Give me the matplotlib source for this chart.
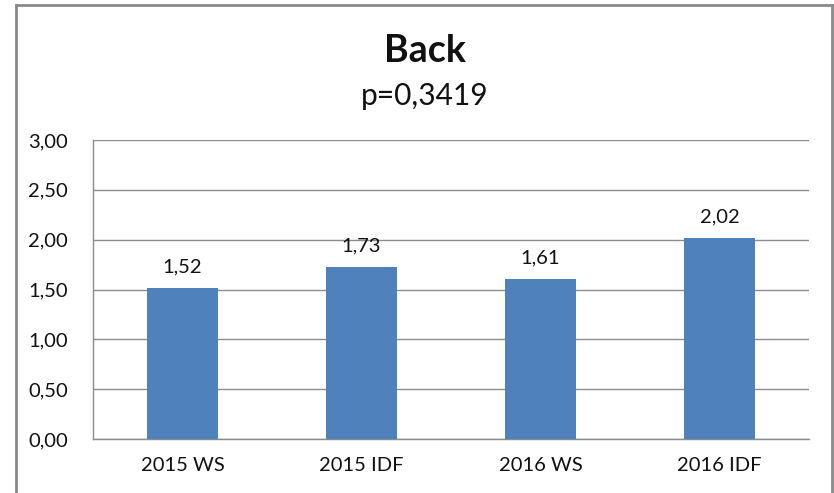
import matplotlib.pyplot as plt
from matplotlib.lines import Line2D
from matplotlib.ticker import FuncFormatter

categories = ['2015 WS', '2015 IDF', '2016 WS', '2016 IDF']
values = [1.52, 1.73, 1.61, 2.02]
title = 'Back'
subtitle = 'p=0,3419'

plt.rcParams['font.family'] = ['Lato', 'DejaVu Sans']

fig = plt.figure(figsize=(8.34, 4.93), dpi=100)
ax = fig.add_axes([0.1115, 0.1095, 0.8585, 0.6065])

x = range(len(categories))
ax.bar(x, values, width=0.40, color='#4F81BD', zorder=3)

# data labels with comma decimals
for xi, v in zip(x, values):
    ax.annotate(f'{v:.2f}'.replace('.', ','), (xi, v), xytext=(0, 9),
                textcoords='offset points', ha='center', va='bottom',
                fontsize=14.5, color='#111111')

ax.set_xlim(-0.5, len(categories) - 0.5)
ax.set_ylim(0, 3)
ax.set_yticks([0, 0.5, 1, 1.5, 2, 2.5, 3])
ax.yaxis.set_major_formatter(FuncFormatter(lambda v, p: f'{v:.2f}'.replace('.', ',')))
ax.set_xticks(list(x))
ax.set_xticklabels(categories)

ax.grid(axis='y', color='#8c8c8c', linewidth=1, zorder=0)
for s in ['top', 'right']:
    ax.spines[s].set_visible(False)
for s in ['left', 'bottom']:
    ax.spines[s].set_color('#8c8c8c')
    ax.spines[s].set_linewidth(1)
ax.tick_params(axis='both', length=0, labelsize=14.5, colors='#111111')
ax.tick_params(axis='y', pad=18)
ax.tick_params(axis='x', pad=13)

fig.text(0.5096, 0.897, title, ha='center', va='center', fontsize=27,
         fontweight='bold', color='#111111')
fig.text(0.5096, 0.805, subtitle, ha='center', va='center', fontsize=21.5,
         color='#111111')

# outer chart border (left, top, right)
W, H = 834, 493
bc = '#8a8a8a'
fig.add_artist(Line2D([16 / W, 16 / W], [0, 1 - 5 / H], transform=fig.transFigure, color=bc, lw=2))
fig.add_artist(Line2D([16 / W, 832 / W], [1 - 5 / H, 1 - 5 / H], transform=fig.transFigure, color=bc, lw=2))
fig.add_artist(Line2D([832 / W, 832 / W], [0, 1 - 5 / H], transform=fig.transFigure, color=bc, lw=2))

fig.savefig('out.png', dpi=100)
